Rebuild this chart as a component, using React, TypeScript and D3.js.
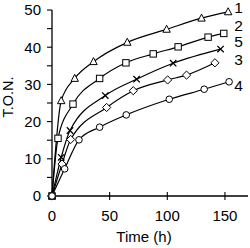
import * as d3 from 'd3';
import React from 'react';

// time (h) and turnover number, one pair per series
const time1 = [0, 8, 19.7, 36, 65.3, 99.4, 129.7, 152.8];
const ton1 = [0, 25.6, 31.6, 36.1, 41.3, 44.8, 47.8, 49.5];
const time2 = [0, 5.2, 18.2, 41.3, 64.1, 87.8, 109.4, 135.4, 149];
const ton2 = [0, 15.5, 24.7, 31.6, 35.8, 38.2, 40.1, 42.7, 43.7];
const time5 = [0, 8, 15.6, 46.2, 73.4, 105.1, 146.2];
const ton5 = [0, 10.4, 17.6, 27.0, 31.4, 35.7, 39.5];
const time3 = [0, 8.7, 16.2, 47.4, 70.5, 100.3, 116.7, 141.3];
const ton3 = [0, 8.6, 15.2, 23.8, 28.3, 31.2, 32.5, 35.8];
const time4 = [0, 11, 23.4, 41.3, 64.4, 101.7, 132, 153.6];
const ton4 = [0, 7.3, 15.1, 18.5, 21.8, 26.0, 28.7, 30.7];

const seriesNames = ['1', '2', '5', '3', '4'];
const seriesTimes = [time1, time2, time5, time3, time4];
const seriesTons = [ton1, ton2, ton5, ton3, ton4];
const seriesMarkers = ['triangle', 'square', 'cross', 'diamond', 'circle'];
const labelTon = [50.6, 45.9, 41.5, 36.6, 29.8];
const labelTime = 158;

const xTicks = [0, 50, 100, 150];
const yTicks = [0, 5, 10, 15, 20, 25, 30, 35, 40, 45, 50];

const W = 250;
const H = 248;
const font = 'Liberation Sans, Arial, sans-serif';

function Marker({ kind, x, y }: { kind: string; x: number; y: number }) {
  const s = 3.2;
  if (kind === 'circle') return <circle cx={x} cy={y} r={3.3} fill="white" stroke="black" strokeWidth={1} />;
  if (kind === 'square') return <rect x={x - s} y={y - s} width={2 * s} height={2 * s} fill="white" stroke="black" strokeWidth={1} />;
  if (kind === 'diamond') return <path d={`M${x},${y - 4.1}L${x + 4.1},${y}L${x},${y + 4.1}L${x - 4.1},${y}Z`} fill="white" stroke="black" strokeWidth={1} />;
  if (kind === 'triangle') return <path d={`M${x},${y - 4.1}L${x + 3.7},${y + 2.9}L${x - 3.7},${y + 2.9}Z`} fill="white" stroke="black" strokeWidth={1} />;
  return <path d={`M${x - 3.2},${y - 3.2}L${x + 3.2},${y + 3.2}M${x - 3.2},${y + 3.2}L${x + 3.2},${y - 3.2}`} stroke="black" strokeWidth={1.3} />;
}

export default function App() {
  const x = d3.scaleLinear().domain([0, 170]).range([52, 248]);
  const y = d3.scaleLinear().domain([0, 50]).range([196, 10]);

  const line = d3.line<[number, number]>()
    .x(d => x(d[0]))
    .y(d => y(d[1]))
    .curve(d3.curveMonotoneX);

  return (
    <svg width={W} height={H} style={{ position: 'absolute', left: 0, top: 0, background: 'white' }} fontFamily={font}>
      {/* curves */}
      {seriesNames.map((name, i) => {
        const pts = seriesTimes[i].map((t, j) => [t, seriesTons[i][j]] as [number, number]);
        return <path key={'l' + name} d={line(pts) || ''} fill="none" stroke="black" strokeWidth={1.2} />;
      })}

      {/* y axis */}
      <line x1={x(0)} x2={x(0)} y1={y(0)} y2={y(50)} stroke="black" strokeWidth={1.3} />
      {yTicks.map(t => (
        <g key={'y' + t}>
          <line x1={x(0) - 5} x2={x(0)} y1={y(t)} y2={y(t)} stroke="black" strokeWidth={1.1} />
          {t % 10 === 0 && (
            <text x={41} y={y(t)} dy="0.36em" textAnchor="end" fontSize={15}>{t}</text>
          )}
        </g>
      ))}

      {/* x axis */}
      <line x1={x(0)} x2={x(170)} y1={y(0)} y2={y(0)} stroke="black" strokeWidth={1.3} />
      {xTicks.map(t => (
        <g key={'x' + t}>
          <line x1={x(t)} x2={x(t)} y1={y(0) - 4} y2={y(0) + 4} stroke="black" strokeWidth={1.1} />
          <text x={x(t)} y={221} textAnchor="middle" fontSize={15}>{t}</text>
        </g>
      ))}

      <text x={144} y={242} textAnchor="middle" fontSize={15}>Time (h)</text>
      <text transform="translate(13,97) rotate(-90)" textAnchor="middle" fontSize={14.5}>T.O.N.</text>

      {/* markers */}
      {seriesNames.map((name, i) => (
        <g key={'m' + name}>
          {seriesTimes[i].map((t, j) => (
            <Marker key={j} kind={seriesMarkers[i]} x={x(t)} y={y(seriesTons[i][j])} />
          ))}
        </g>
      ))}

      {/* series labels */}
      {seriesNames.map((name, i) => (
        <text key={'t' + name} x={x(labelTime)} y={y(labelTon[i])} dy="0.36em" fontSize={15.5}>{name}</text>
      ))}
    </svg>
  );
}
